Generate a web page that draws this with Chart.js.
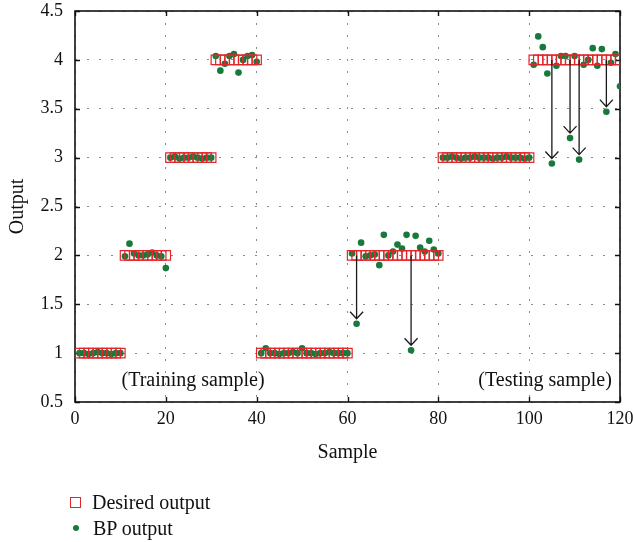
<!DOCTYPE html>
<html>
<head>
<meta charset="utf-8">
<script src="https://cdn.jsdelivr.net/npm/chart.js@4.4.1/dist/chart.umd.min.js"></script>
<style>
  html, body { margin: 0; padding: 0; background: #fff; }
  #wrap { position: relative; width: 633px; height: 542px; }
  #legend { position: absolute; left: 70px; top: 489px; font-family: "Liberation Serif", serif; font-size: 20px; color: #111; line-height: 26px; }
  #legend .item { display: flex; align-items: center; }
  #legend .sq { display: inline-block; width: 9px; height: 9px; border: 1.3px solid #e3262b; margin: 0 11px 0 0; }
  #legend .dot { display: inline-block; width: 6px; height: 6px; border-radius: 50%; background: #17793b; margin: 0 14px 0 3px; }
</style>
</head>
<body>
<div id="wrap">
  <canvas id="grafico" width="633" height="542"></canvas>
  <div id="legend">
    <div class="item"><span class="sq"></span>Desired output</div>
    <div class="item"><span class="dot"></span>BP output</div>
  </div>
</div>
<script>
// valores deseados (muestras 1..120)
const desiredOutput = [
  1, 1, 1, 1, 1, 1, 1, 1, 1, 1,
  2, 2, 2, 2, 2, 2, 2, 2, 2, 2,
  3, 3, 3, 3, 3, 3, 3, 3, 3, 3,
  4, 4, 4, 4, 4, 4, 4, 4, 4, 4,
  1, 1, 1, 1, 1, 1, 1, 1, 1, 1,
  1, 1, 1, 1, 1, 1, 1, 1, 1, 1,
  2, 2, 2, 2, 2, 2, 2, 2, 2, 2,
  2, 2, 2, 2, 2, 2, 2, 2, 2, 2,
  3, 3, 3, 3, 3, 3, 3, 3, 3, 3,
  3, 3, 3, 3, 3, 3, 3, 3, 3, 3,
  4, 4, 4, 4, 4, 4, 4, 4, 4, 4,
  4, 4, 4, 4, 4, 4, 4, 4, 4, 4
];

// salida de la red BP
const bpOutput = [
  1.00, 1.00, 0.99, 1.00, 1.01, 1.00, 1.00, 0.99, 1.00, 1.00,
  1.99, 2.12, 2.02, 2.00, 2.00, 2.01, 2.03, 2.00, 1.99, 1.87,
  3.00, 3.01, 2.99, 3.00, 3.00, 3.01, 3.00, 2.99, 3.00, 3.00,
  4.04, 3.89, 3.96, 4.04, 4.06, 3.87, 4.00, 4.04, 4.05, 3.98,
  1.00, 1.05, 1.00, 1.00, 0.99, 1.00, 1.00, 1.01, 1.00, 1.05,
  1.00, 1.00, 0.99, 1.00, 1.00, 1.01, 1.00, 1.00, 1.00, 1.00,
  2.02, 1.30, 2.13, 1.99, 2.00, 2.01, 1.90, 2.21, 2.00, 2.04,
  2.11, 2.07, 2.21, 1.03, 2.20, 2.08, 2.04, 2.15, 2.06, 2.02,
  3.00, 3.00, 3.01, 3.00, 2.99, 3.00, 3.00, 3.01, 3.00, 3.00,
  3.00, 2.99, 3.00, 3.00, 3.01, 3.00, 3.00, 3.00, 2.99, 3.00,
  3.95, 4.24, 4.13, 3.86, 2.94, 3.94, 4.04, 4.04, 3.20, 4.04,
  2.98, 3.95, 4.00, 4.12, 3.94, 4.11, 3.47, 3.97, 4.06, 3.73
];

// muestras con error grande (flechas)
const arrowSamples = [62, 74, 105, 109, 111, 117];

const xTicks = [0, 20, 40, 60, 80, 100, 120];
const yTicks = [0.5, 1, 1.5, 2, 2.5, 3, 3.5, 4, 4.5];

const regionLabels = ["(Training sample)", "(Testing sample)"];

const desiredPts = desiredOutput.map((v, i) => ({ x: i + 1, y: v }));
const bpPts = bpOutput.map((v, i) => ({ x: i + 1, y: v }));

const serif = '"Liberation Serif", "DejaVu Serif", serif';

const decor = {
  id: 'decor',
  beforeDatasetsDraw(chart) {
    const { ctx, chartArea: a, scales: { x, y } } = chart;
    ctx.save();
    ctx.strokeStyle = '#111';
    ctx.lineWidth = 1.4;
    ctx.beginPath();
    // marcas hacia adentro
    xTicks.forEach(t => {
      const px = Math.round(x.getPixelForValue(t)) + 0.5;
      ctx.moveTo(px, a.bottom); ctx.lineTo(px, a.bottom - 5);
      ctx.moveTo(px, a.top); ctx.lineTo(px, a.top + 5);
    });
    yTicks.forEach(t => {
      const py = Math.round(y.getPixelForValue(t)) + 0.5;
      ctx.moveTo(a.left, py); ctx.lineTo(a.left + 5, py);
      ctx.moveTo(a.right, py); ctx.lineTo(a.right - 5, py);
    });
    ctx.stroke();
    ctx.lineWidth = 1.6;
    ctx.strokeRect(a.left, a.top, a.right - a.left, a.bottom - a.top);
    ctx.restore();
  },
  afterDatasetsDraw(chart) {
    const { ctx, scales: { x, y } } = chart;
    ctx.save();
    ctx.strokeStyle = '#1a1a1a';
    ctx.lineWidth = 1.3;
    arrowSamples.forEach(s => {
      const px = x.getPixelForValue(s);
      const y0 = y.getPixelForValue(desiredOutput[s - 1]);
      const tip = y.getPixelForValue(bpOutput[s - 1]) - 5;
      ctx.beginPath();
      ctx.moveTo(px, y0); ctx.lineTo(px, tip);
      ctx.moveTo(px - 6.5, tip - 7); ctx.lineTo(px, tip); ctx.lineTo(px + 6.5, tip - 7);
      ctx.stroke();
    });
    ctx.fillStyle = '#111';
    ctx.font = '20px ' + serif;
    ctx.textAlign = 'center';
    ctx.textBaseline = 'middle';
    ctx.fillText(regionLabels[0], x.getPixelForValue(26), y.getPixelForValue(0.72));
    ctx.fillText(regionLabels[1], x.getPixelForValue(103.5), y.getPixelForValue(0.72));
    ctx.restore();
  }
};

const gridDots = {
  color: '#8a8a8a',
  lineWidth: 1,
  drawTicks: false
};

new Chart(document.getElementById('grafico').getContext('2d'), {
  type: 'scatter',
  data: {
    datasets: [
      {
        label: 'Desired output',
        data: desiredPts,
        pointStyle: 'rect',
        pointRadius: 6.6,
        pointBorderWidth: 1.2,
        borderColor: '#e3262b',
        backgroundColor: 'rgba(0,0,0,0)'
      },
      {
        label: 'BP output',
        data: bpPts,
        pointStyle: 'circle',
        pointRadius: 3.3,
        pointBorderWidth: 0,
        borderColor: '#17793b',
        backgroundColor: '#17793b'
      }
    ]
  },
  options: {
    responsive: false,
    animation: false,
    events: [],
    layout: { padding: { left: 0, top: 11, right: 13, bottom: 75 } },
    plugins: { legend: { display: false }, tooltip: { enabled: false } },
    scales: {
      x: {
        type: 'linear',
        min: 0, max: 120,
        afterBuildTicks: s => { s.ticks = xTicks.map(v => ({ value: v })); },
        afterFit: s => { s.height = 65; s.paddingLeft = 0; s.paddingRight = 0; },
        grid: gridDots,
        border: { display: false, dash: [2, 10] },
        ticks: { color: '#111', font: { family: serif, size: 18 }, padding: 6, maxRotation: 0, callback: v => String(v) },
        title: { display: true, text: 'Sample', color: '#111', font: { family: serif, size: 20 }, padding: { top: 0, bottom: 2 } }
      },
      y: {
        min: 0.5, max: 4.5,
        afterBuildTicks: s => { s.ticks = yTicks.map(v => ({ value: v })); },
        afterFit: s => { s.width = 75; s.paddingTop = 0; s.paddingBottom = 0; },
        grid: gridDots,
        border: { display: false, dash: [2, 10] },
        ticks: { color: '#111', font: { family: serif, size: 18 }, padding: 12, callback: v => String(v) },
        title: { display: true, text: 'Output', color: '#111', font: { family: serif, size: 20 }, padding: { top: 6, bottom: 0 } }
      }
    }
  },
  plugins: [decor]
});
</script>
</body>
</html>
